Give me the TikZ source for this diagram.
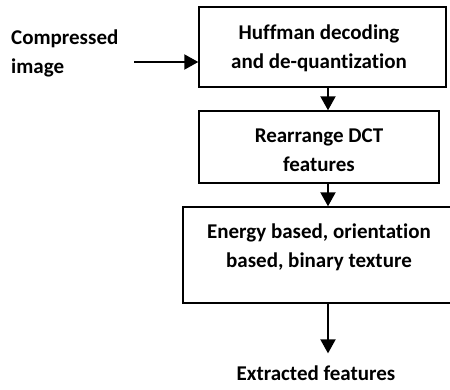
\documentclass[tikz,border=0pt]{standalone}
\usepackage{fontspec}
\setmainfont[RawFeature=-liga]{Carlito}
\usetikzlibrary{arrows.meta}
\tikzset{
  boxstyle/.style={draw, line width=1.4pt, inner sep=0pt},
  txt/.style={font=\fontsize{21}{29}\selectfont\bfseries, align=center, inner sep=0pt},
  arr/.style={line width=2pt, -{Triangle[length=14pt,width=15pt]}},
}
\begin{document}
\begin{tikzpicture}[x=1pt,y=-1pt]
\useasboundingbox (0,0) rectangle (450,390);
\clip (0,0) rectangle (450,390);
\node[boxstyle, minimum width=247pt, minimum height=80pt] (b1) at (322.5,47) {};
\node[boxstyle, minimum width=240pt, minimum height=72pt] (b2) at (319,147) {};
\node[boxstyle, minimum width=287pt, minimum height=96pt] (b3) at (326.5,255) {};
\node[txt] (t1) at (319,48) {Huffman decoding\\and de-quantization};
\node[txt] (t2) at (319,150) {Rearrange DCT\\features};
\node[txt] (t3) at (319,247) {Energy based, orientation\\based, binary texture};
\node[txt, align=left, anchor=west] (cin) at (11,53) {Compressed\\image};
\node[txt] (feat) at (316,373) {Extracted features};
\coordinate (ax) at (328,0);
\coordinate (ain) at (134,62);
\draw[arr] (ain) -- (ain -| b1.west);
\draw[arr] (ax |- b1.south) -- (ax |- b2.north);
\draw[arr] (ax |- b2.south) -- (ax |- b3.north);
\draw[arr, shorten >=12pt] (ax |- b3.south) -- (ax |- feat.north);
\end{tikzpicture}
\end{document}
